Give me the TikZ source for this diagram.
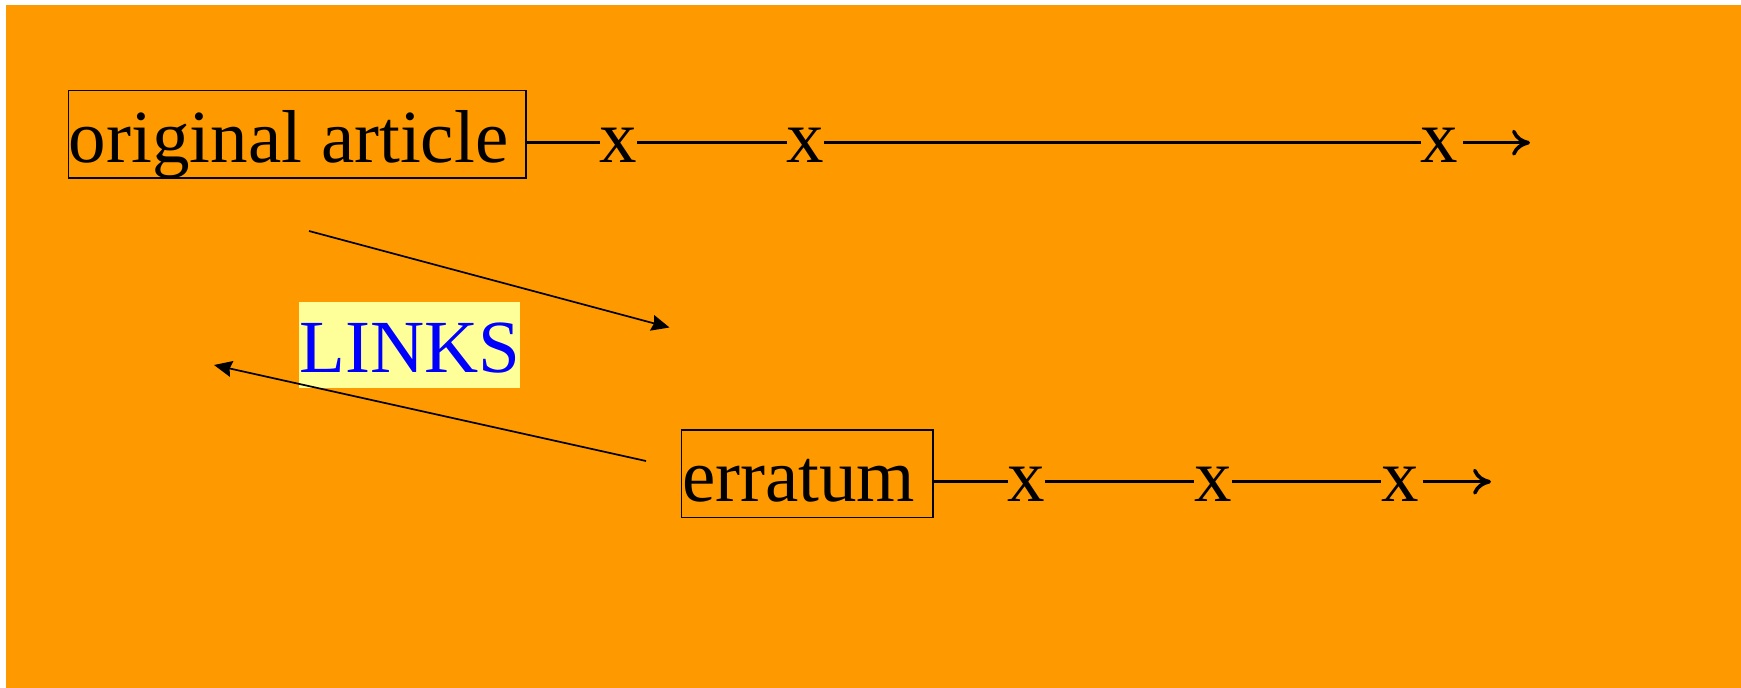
\documentclass[tikz,border=0pt]{standalone}
\usepackage{fontspec}
\setmainfont{Liberation Serif}
\usetikzlibrary{arrows.meta}
\definecolor{bgorange}{RGB}{255,153,0}
\definecolor{linkyellow}{RGB}{255,255,153}
\definecolor{linkblue}{RGB}{0,0,255}
\begin{document}
\begin{tikzpicture}[x=1pt,y=-1pt,
  bigtext/.style={font=\fontsize{75}{90}\selectfont},
  boxed/.style={bigtext, draw=black, line width=1.5pt, inner xsep=0.5pt, inner ysep=0.5pt,
    text height=71pt, text depth=15.5pt, anchor=base west},
  xmark/.style={bigtext, inner sep=0pt, anchor=base},
  rowline/.style={draw=black, line width=2.7pt},
  rowarrow/.style={draw=black, line width=3pt, -{Computer Modern Rightarrow[length=18pt,width=26pt,line width=3.6pt]}},
  linkarrow/.style={draw=black, line width=1.7pt, -{Stealth[length=18pt,width=16pt,inset=2pt]}},
  links/.style={bigtext, fill=linkyellow, text=linkblue, inner sep=0pt,
    text height=70pt, text depth=15.4pt, anchor=base west}
]
\useasboundingbox (0,0) rectangle (1741,688);
\fill[white] (0,0) rectangle (1741,688);
\fill[bgorange] (6,5) rectangle (1741,688);

% row 1
\node[boxed] (orig) at (67.7,162) {original article\hspace*{17pt}};
\node[xmark] (a1) at (618.5,162) {x};
\node[xmark] (a2) at (805.5,162) {x};
\node[xmark] (a3) at (1439.7,162) {x};
\coordinate (r1) at (0,142.7);
\coordinate (e1) at (1530,142.7);
\draw[rowline] (orig.east |- r1) -- (a1.west |- r1);
\draw[rowline] (a1.east |- r1) -- (a2.west |- r1);
\draw[rowline] (a2.east |- r1) -- (a3.west |- r1);
\draw[rowarrow] ([xshift=4.5pt]a3.east |- r1) -- (e1);

% row 2
\node[boxed] (err) at (680.8,501.7) {erratum\hspace*{17pt}};
\node[xmark] (b1) at (1026.5,501.7) {x};
\node[xmark] (b2) at (1213.4,501.7) {x};
\node[xmark] (b3) at (1400,501.7) {x};
\coordinate (r2) at (0,481.7);
\coordinate (e2) at (1491,481.7);
\draw[rowline] (err.east |- r2) -- (b1.west |- r2);
\draw[rowline] (b1.east |- r2) -- (b2.west |- r2);
\draw[rowline] (b2.east |- r2) -- (b3.west |- r2);
\draw[rowarrow] ([xshift=4pt]b3.east |- r2) -- (e2);

% links
\node[links] (lk) at (299,372.3) {LINKS};
\coordinate (d1s) at (309,231);
\coordinate (d1e) at (669.5,327.5);
\coordinate (d2s) at (646,461);
\coordinate (d2e) at (214,365);
\draw[linkarrow] (d1s) -- (d1e);
\draw[linkarrow] (d2s) -- (d2e);
\end{tikzpicture}
\end{document}
